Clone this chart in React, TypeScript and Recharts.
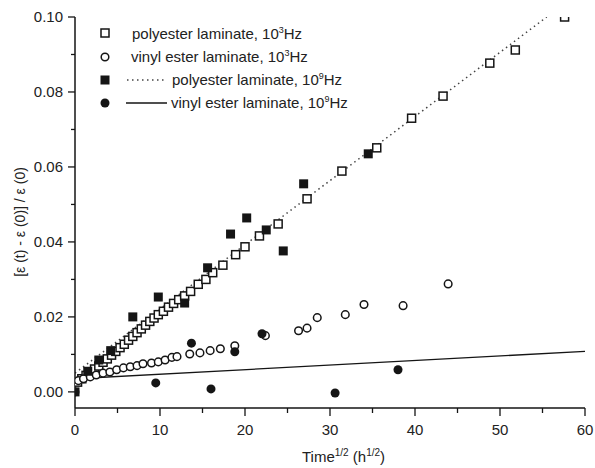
import { ComposedChart, Line, Scatter, XAxis, YAxis } from "recharts"

const INK = "#151515"
const FONT = "'Liberation Sans', Arial, sans-serif"

// Time^1/2 ticks (major every 10, minor every 5)
const xTicks = [0, 5, 10, 15, 20, 25, 30, 35, 40, 45, 50, 55, 60]
const yTicks = [0, 0.01, 0.02, 0.03, 0.04, 0.05, 0.06, 0.07, 0.08, 0.09, 0.1]

// polyester laminate, 10^3 Hz (open squares)
const polyester3 = [
  { x: 0.3, y: 0.0026 }, { x: 0.8, y: 0.0035 }, { x: 1.3, y: 0.0044 }, { x: 1.8, y: 0.0052 },
  { x: 2.3, y: 0.0061 }, { x: 2.8, y: 0.0069 }, { x: 3.3, y: 0.0079 }, { x: 3.8, y: 0.0088 },
  { x: 4.3, y: 0.0098 }, { x: 4.8, y: 0.0108 }, { x: 5.3, y: 0.0118 }, { x: 5.8, y: 0.0127 },
  { x: 6.3, y: 0.0138 }, { x: 6.8, y: 0.0148 }, { x: 7.3, y: 0.0158 }, { x: 7.8, y: 0.0168 },
  { x: 8.3, y: 0.0178 }, { x: 8.8, y: 0.0188 }, { x: 9.3, y: 0.0197 }, { x: 9.8, y: 0.0206 },
  { x: 10.4, y: 0.0215 }, { x: 11.0, y: 0.0226 }, { x: 11.6, y: 0.0236 }, { x: 12.2, y: 0.0246 },
  { x: 12.9, y: 0.0256 }, { x: 13.6, y: 0.0268 }, { x: 14.5, y: 0.0287 }, { x: 15.4, y: 0.03 },
  { x: 16.2, y: 0.0318 }, { x: 17.4, y: 0.0338 }, { x: 18.9, y: 0.0366 }, { x: 20.0, y: 0.0387 },
  { x: 21.7, y: 0.0416 }, { x: 23.9, y: 0.0448 }, { x: 27.3, y: 0.0515 }, { x: 31.4, y: 0.0589 },
  { x: 35.5, y: 0.0651 }, { x: 39.6, y: 0.073 }, { x: 43.3, y: 0.0789 }, { x: 48.8, y: 0.0877 },
  { x: 51.8, y: 0.0912 }, { x: 57.6, y: 0.1 },
]

// vinyl ester laminate, 10^3 Hz (open circles)
const vinyl3 = [
  { x: 0.4, y: 0.003 }, { x: 1.0, y: 0.0035 }, { x: 1.8, y: 0.004 }, { x: 2.5, y: 0.0045 },
  { x: 3.3, y: 0.005 }, { x: 4.1, y: 0.0053 }, { x: 4.9, y: 0.0059 }, { x: 5.7, y: 0.0064 },
  { x: 6.5, y: 0.0067 }, { x: 7.3, y: 0.007 }, { x: 8.0, y: 0.0075 }, { x: 9.0, y: 0.0077 },
  { x: 9.8, y: 0.008 }, { x: 10.6, y: 0.0085 }, { x: 11.4, y: 0.0092 }, { x: 12.0, y: 0.0094 },
  { x: 13.5, y: 0.0101 }, { x: 14.7, y: 0.0104 }, { x: 15.9, y: 0.011 }, { x: 17.1, y: 0.0115 },
  { x: 18.8, y: 0.0123 }, { x: 22.4, y: 0.015 }, { x: 26.3, y: 0.0163 }, { x: 27.3, y: 0.017 },
  { x: 28.5, y: 0.0198 }, { x: 31.8, y: 0.0206 }, { x: 34.0, y: 0.0233 }, { x: 38.6, y: 0.023 },
  { x: 43.9, y: 0.0288 },
]

// polyester laminate, 10^9 Hz (filled squares)
const polyester9 = [
  { x: 0, y: 0 }, { x: 1.5, y: 0.0055 }, { x: 2.8, y: 0.0085 }, { x: 4.2, y: 0.011 },
  { x: 6.8, y: 0.02 }, { x: 9.8, y: 0.0253 }, { x: 12.9, y: 0.0237 }, { x: 15.6, y: 0.0331 },
  { x: 18.3, y: 0.0421 }, { x: 20.2, y: 0.0464 }, { x: 22.5, y: 0.0432 }, { x: 24.5, y: 0.0376 },
  { x: 26.9, y: 0.0555 }, { x: 34.5, y: 0.0635 },
]

// vinyl ester laminate, 10^9 Hz (filled circles)
const vinyl9 = [
  { x: 0, y: 0 }, { x: 9.5, y: 0.0024 }, { x: 13.7, y: 0.013 }, { x: 16.0, y: 0.0008 },
  { x: 18.8, y: 0.0107 }, { x: 22.0, y: 0.0155 }, { x: 30.6, y: -0.0003 }, { x: 38.0, y: 0.0059 },
]

// fitted lines
const polyester9Fit = [{ x: 0, y: 0.005 }, { x: 55.5, y: 0.1 }]
const vinyl9Fit = [{ x: 0, y: 0.0035 }, { x: 60, y: 0.0108 }]

const OpenSquare = ({ cx, cy }: any) => (
  <rect x={cx - 4} y={cy - 4} width={8} height={8} fill="#fff" stroke={INK} strokeWidth={1.5} />
)
const OpenCircle = ({ cx, cy }: any) => (
  <circle cx={cx} cy={cy} r={3.8} fill="#fff" stroke={INK} strokeWidth={1.5} />
)
const FilledSquare = ({ cx, cy }: any) => (
  <rect x={cx - 4.5} y={cy - 4.5} width={9} height={9} fill={INK} />
)
const FilledCircle = ({ cx, cy }: any) => <circle cx={cx} cy={cy} r={4.5} fill={INK} />

function XTick({ x, y, payload }: any) {
  const major = payload.value % 10 === 0
  return (
    <g>
      <line x1={x} x2={x} y1={y} y2={y + (major ? 8 : 5)} stroke={INK} strokeWidth={1.3} />
      {major && (
        <text x={x} y={y + 27} textAnchor="middle" fontSize={15} fontFamily={FONT} fill="#222">
          {payload.value}
        </text>
      )}
    </g>
  )
}

function YTick({ x, y, payload }: any) {
  const major = Math.round(payload.value * 100) % 2 === 0
  return (
    <g>
      <line x1={x} x2={x - (major ? 7 : 4)} y1={y} y2={y} stroke={INK} strokeWidth={1.3} />
      {major && (
        <text x={x - 12} y={y + 5} textAnchor="end" fontSize={15} fontFamily={FONT} fill="#222">
          {payload.value.toFixed(2)}
        </text>
      )}
    </g>
  )
}

function Overlay() {
  const text = { fontSize: 15, fontFamily: FONT, fill: "#222" }
  return (
    <svg width={595} height={468} style={{ position: "absolute", left: 0, top: 0, pointerEvents: "none" }}>
      {/* legend */}
      <rect x={101} y={29} width={8} height={8} fill="#fff" stroke={INK} strokeWidth={1.5} />
      <text x={132} y={39} {...text}>
        polyester laminate, 10<tspan dy={-6} fontSize={9}>3</tspan><tspan dy={6}>Hz</tspan>
      </text>
      <circle cx={105} cy={57} r={3.8} fill="#fff" stroke={INK} strokeWidth={1.5} />
      <text x={131} y={62} {...text}>
        vinyl ester laminate, 10<tspan dy={-6} fontSize={9}>3</tspan><tspan dy={6}>Hz</tspan>
      </text>
      <rect x={100.5} y={75.5} width={9} height={9} fill={INK} />
      <line x1={127} x2={164} y1={80} y2={80} stroke="#444" strokeWidth={1.5} strokeDasharray="1.5 3.5" />
      <text x={172} y={85} {...text}>
        polyester laminate, 10<tspan dy={-6} fontSize={9}>9</tspan><tspan dy={6}>Hz</tspan>
      </text>
      <circle cx={105} cy={103} r={4.5} fill={INK} />
      <line x1={126} x2={167} y1={103} y2={103} stroke={INK} strokeWidth={1.3} />
      <text x={171} y={108} {...text}>
        vinyl ester laminate, 10<tspan dy={-6} fontSize={9}>9</tspan><tspan dy={6}>Hz</tspan>
      </text>

      {/* axis titles */}
      <text x={302} y={462} {...text}>
        Time<tspan dy={-6} fontSize={10}>1/2</tspan><tspan dy={6}> (h</tspan>
        <tspan dy={-6} fontSize={10}>1/2</tspan><tspan dy={6}>)</tspan>
      </text>
      <text x={20} y={222} transform="rotate(-90 20 222)" textAnchor="middle" dy={5} {...text} fontSize={14}>
        [ε (t) - ε (0)] / ε (0)
      </text>
    </svg>
  )
}

export default function App() {
  return (
    <div style={{ position: "absolute", left: 0, top: 0, width: 595, height: 468, background: "#fff" }}>
      <ComposedChart width={595} height={468} margin={{ top: 17, right: 10, bottom: 30, left: 0 }}>
        <XAxis
          type="number"
          dataKey="x"
          domain={[0, 60]}
          ticks={xTicks}
          interval={0}
          tickSize={0}
          tickMargin={0}
          tickLine={false}
          tick={<XTick />}
          axisLine={{ stroke: INK, strokeWidth: 1.5 }}
          height={30}
          allowDataOverflow
        />
        <YAxis
          type="number"
          dataKey="y"
          domain={[-0.0043, 0.1]}
          ticks={yTicks}
          interval={0}
          tickSize={0}
          tickMargin={0}
          tickLine={false}
          tick={<YTick />}
          axisLine={{ stroke: INK, strokeWidth: 1.5 }}
          width={75}
          allowDataOverflow
        />
        <Line data={polyester9Fit} dataKey="y" stroke="#444" strokeWidth={1.5} strokeDasharray="1.5 3.5" dot={false} isAnimationActive={false} />
        <Line data={vinyl9Fit} dataKey="y" stroke={INK} strokeWidth={1.3} dot={false} isAnimationActive={false} />
        <Scatter data={polyester3} dataKey="y" shape={OpenSquare} isAnimationActive={false} />
        <Scatter data={vinyl3} dataKey="y" shape={OpenCircle} isAnimationActive={false} />
        <Scatter data={polyester9} dataKey="y" shape={FilledSquare} isAnimationActive={false} />
        <Scatter data={vinyl9} dataKey="y" shape={FilledCircle} isAnimationActive={false} />
      </ComposedChart>
      <Overlay />
    </div>
  )
}
